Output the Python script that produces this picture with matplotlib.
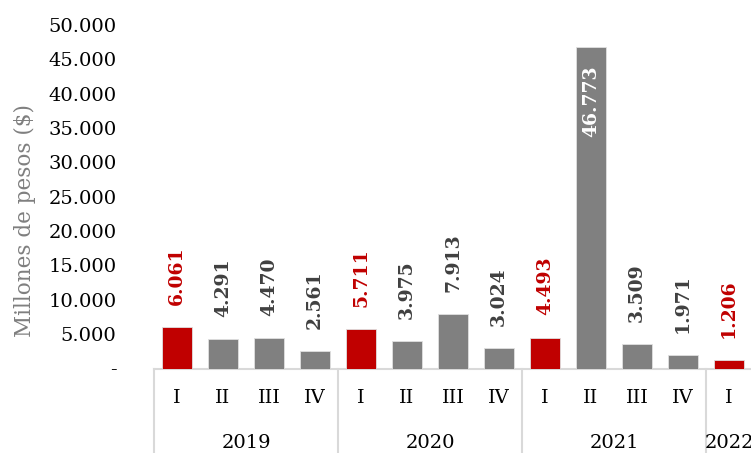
import matplotlib
matplotlib.use("Agg")
import matplotlib.pyplot as plt
import numpy as np

# quarterly values, millones de pesos
years = ["2019", "2020", "2021", "2022"]
quarters = ["I", "II", "III", "IV", "I", "II", "III", "IV", "I", "II", "III", "IV", "I"]
values = [6061, 4291, 4470, 2561, 5711, 3975, 7913, 3024, 4493, 46773, 3509, 1971, 1206]
quarters_per_year = [4, 4, 4, 1]
yticks = [0, 5000, 10000, 15000, 20000, 25000, 30000, 35000, 40000, 45000, 50000]

RED = "#C00000"
GRAY = "#808080"
LINE = "#d9d9d9"

plt.rcParams["font.family"] = "DejaVu Serif"

fig = plt.figure(figsize=(7.51, 4.53), dpi=100)
ax = fig.add_axes([154 / 751, 1 - 368.5 / 453, 598 / 751, 343.5 / 453])

x = np.arange(len(values))
colors = [RED if q == "I" else GRAY for q in quarters]
ax.bar(x, values, width=0.67, color=colors, edgecolor="#e0e0e0", linewidth=0.6, zorder=2)

def fmt(v):
    return f"{v:,}".replace(",", ".")

for xi, v, c in zip(x, values, colors):
    if v > 40000:
        ax.annotate(fmt(v), (xi, v), xytext=(0, -13), textcoords="offset points",
                    rotation=90, ha="center", va="top", color="white",
                    fontsize=13.5, fontweight="bold")
    else:
        ax.annotate(fmt(v), (xi, v), xytext=(0, 16), textcoords="offset points",
                    rotation=90, ha="center", va="bottom",
                    color=RED if c == RED else "#404040",
                    fontsize=13.5, fontweight="bold")

ax.set_xlim(-0.5, len(values) - 0.5)
ax.set_ylim(0, 50000)
ax.set_yticks(yticks)
ax.set_yticklabels(["-"] + [fmt(t) for t in yticks[1:]], fontsize=14)
ax.tick_params(axis="y", length=0, pad=27)
ax.set_xticks([])
for s in ax.spines.values():
    s.set_visible(False)

ax.set_ylabel("Millones de pesos ($)", fontsize=15.5, color="#7f7f7f", labelpad=2)
ax.yaxis.set_label_coords(-0.197, 0.43)

# multi-level category axis: box lines and labels
ax.plot([-0.5, len(values) - 0.5], [0, 0], color=LINE, lw=1.5, clip_on=False, zorder=1)
bounds = np.concatenate([[0], np.cumsum(quarters_per_year)]) - 0.5
for b in bounds:
    ax.plot([b, b], [0, -0.3], transform=ax.get_xaxis_transform(), color=LINE,
            lw=1.5, clip_on=False)
for xi, q in zip(x, quarters):
    ax.text(xi, -0.086, q, transform=ax.get_xaxis_transform(), ha="center",
            va="center", fontsize=14)
for i, yr in enumerate(years):
    mid = (bounds[i] + bounds[i + 1]) / 2
    ax.text(mid, -0.218, yr, transform=ax.get_xaxis_transform(), ha="center",
            va="center", fontsize=14)

fig.savefig("out.png", dpi=100)
